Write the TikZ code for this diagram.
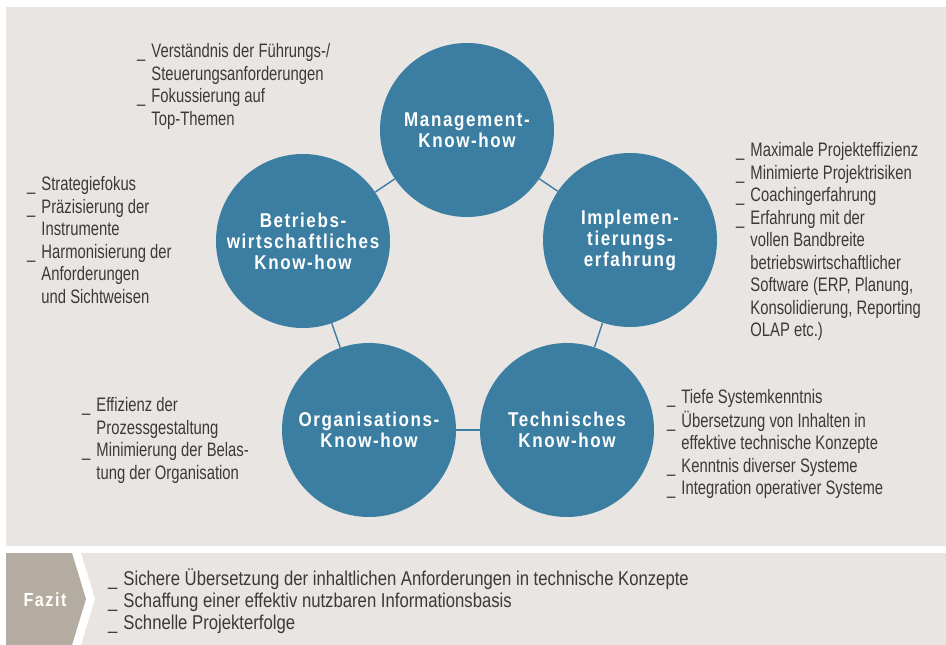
\documentclass[tikz,border=0pt]{standalone}
\usepackage{fontspec}
\setmainfont{Liberation Sans}[FakeStretch=0.76]
\newfontfamily\knotfont{Liberation Sans}[FakeStretch=0.85,LetterSpace=8]
\newfontfamily\fazitfont{Liberation Sans}[FakeStretch=0.835]
\usepackage{xcolor}
\definecolor{knotblue}{HTML}{3B7EA1}
\definecolor{panelgrey}{HTML}{E8E5E2}
\definecolor{fazitbrown}{HTML}{B4ACA1}
\definecolor{textgrey}{HTML}{3A3A3A}
\newcommand{\lst}[1]{\begin{tabular}{@{}l@{\hspace{6pt}}l@{}}#1\end{tabular}}

\begin{document}
\begin{tikzpicture}[x=1pt,y=-1pt,
        knot/.style={circle, fill=knotblue, minimum size=174pt, inner sep=0pt, text=white, align=center,
            font=\knotfont\bfseries\fontsize{20}{21}\selectfont},
        link/.style={draw=knotblue, line width=1.4pt},
        txt/.style={anchor=north west, inner sep=0pt, text=textgrey, font=\fontsize{19.5}{22.5}\selectfont}]
        \useasboundingbox (0,0) rectangle (946,645);
        \fill[white] (0,0) rectangle (946,645);
        \fill[panelgrey] (6,7) rectangle (946,546);
        \fill[panelgrey] (6,553) rectangle (946,645);
        \fill[white] (6,553) -- (81,553) -- (95,599) -- (81,645) -- (6,645) -- cycle;
        \fill[fazitbrown] (6,553) -- (72,553) -- (86,599) -- (72,645) -- (6,645) -- cycle;

        \node[knot] (mgmt) at (467,130) {Management-\\Know-how};
        \node[knot] (bwl) at (303,241) {Betriebs-\\wirtschaftliches\\Know-how};
        \node[knot] (impl) at (630,240) {Implemen-\\tierungs-\\erfahrung};
        \node[knot] (orga) at (369,430) {Organisations-\\Know-how};
        \node[knot] (tech) at (567,430) {Technisches\\Know-how};

        \draw[link] (mgmt) -- (bwl);
        \draw[link] (bwl) -- (orga);
        \draw[link] (orga) -- (tech);
        \draw[link] (tech) -- (impl);
        \draw[link] (impl) -- (mgmt);

        \node[txt] (mgmtlist) at (137,42) {\lst{\_ & Verständnis der Führungs-/\\ & Steuerungsanforderungen\\ \_ & Fokussierung auf\\ & Top-Themen}};
        \node[txt] (impllist) at (736,141) {\lst{\_ & Maximale Projekteffizienz\\ \_ & Minimierte Projektrisiken\\ \_ & Coachingerfahrung\\ \_ & Erfahrung mit der\\ & vollen Bandbreite\\ & betriebswirtschaftlicher\\ & Software (ERP, Planung,\\ & Konsolidierung, Reporting\\ & OLAP etc.)}};
        \node[txt] (bwllist) at (27,175) {\lst{\_ & Strategiefokus\\ \_ & Präzisierung der\\ & Instrumente\\ \_ & Harmonisierung der\\ & Anforderungen\\ & und Sichtweisen}};
        \node[txt] (orgalist) at (82,396) {\lst{\_ & Effizienz der\\ & Prozessgestaltung\\ \_ & Minimierung der Belas-\\ & tung der Organisation}};
        \node[txt] (techlist) at (667,388) {\lst{\_ & Tiefe Systemkenntnis\\ \_ & Übersetzung von Inhalten in\\ & effektive technische Konzepte\\ \_ & Kenntnis diverser Systeme\\ \_ & Integration operativer Systeme}};

        \node[text=white, font=\knotfont\bfseries\fontsize{19}{20}\selectfont] (fazit) at (45,600) {Fazit};
        \node[txt, font=\fazitfont\fontsize{20}{22}\selectfont] (fazitlist) at (108,569) {\lst{\_ & Sichere Übersetzung der inhaltlichen Anforderungen in technische Konzepte\\ \_ & Schaffung einer effektiv nutzbaren Informationsbasis\\ \_ & Schnelle Projekterfolge}};
    \end{tikzpicture}
\end{document}
